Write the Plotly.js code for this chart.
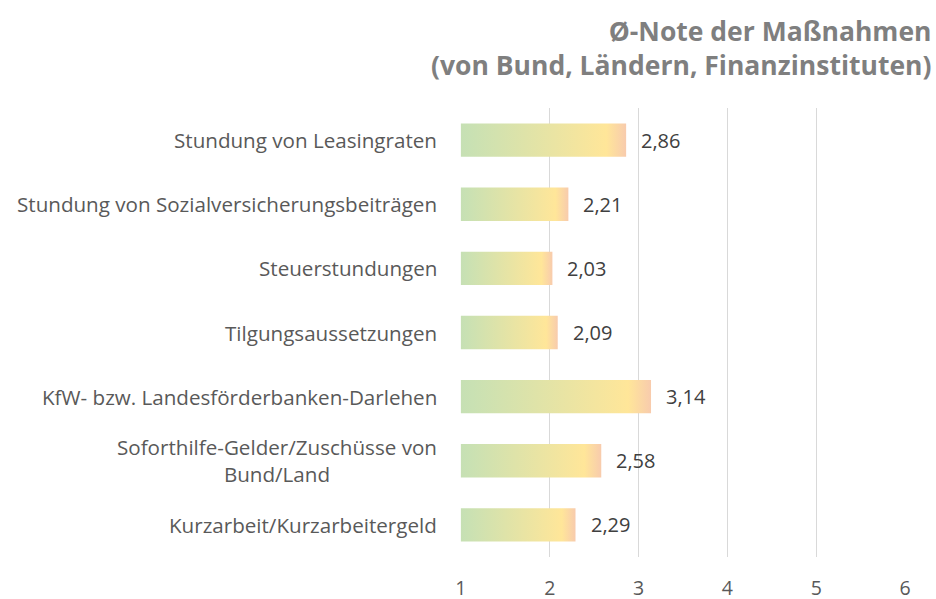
<!DOCTYPE html>
<html>
<head>
<meta charset="utf-8">
<script src="https://cdn.plot.ly/plotly-3.0.1.min.js"></script>
<style>html,body{margin:0;padding:0;background:#fff;}#chart{width:936px;height:599px;}</style>
</head>
<body>
<div id="chart"></div>
<script>
const categories = [
  "Stundung von Leasingraten",
  "Stundung von Sozialversicherungsbeiträgen",
  "Steuerstundungen",
  "Tilgungsaussetzungen",
  "KfW- bzw. Landesförderbanken-Darlehen",
  "Soforthilfe-Gelder/Zuschüsse von<br>Bund/Land",
  "Kurzarbeit/Kurzarbeitergeld"
];
const values = [2.86, 2.21, 2.03, 2.09, 3.14, 2.58, 2.29];
const tickValsX = [1, 2, 3, 4, 5, 6];
const baseValue = 1;
const titleText = "Ø-Note der Maßnahmen<br>(von Bund, Ländern, Finanzinstituten)";

const FONT = "'Open Sans', Lato, sans-serif";
const half = 0.26;
const gradient = [[0, '#C6E0B4'], [0.06, '#C9E1B3'], [0.88, '#FFE699'], [1, '#F8CBAD']];

const traces = values.map((v, i) => ({
  type: 'scatter',
  mode: 'lines',
  x: [baseValue, v, v, baseValue, baseValue],
  y: [i - half, i - half, i + half, i + half, i - half],
  fill: 'toself',
  fillgradient: {type: 'horizontal', colorscale: gradient},
  line: {width: 0, color: 'rgba(0,0,0,0)'},
  hoverinfo: 'skip',
  showlegend: false
}));

const annotations = [];
values.forEach((v, i) => {
  annotations.push({
    x: v, y: i, xref: 'x', yref: 'y',
    text: v.toFixed(2).replace('.', ','),
    showarrow: false, xanchor: 'left', yanchor: 'middle', xshift: 13,
    font: {family: FONT, size: 20, color: '#404040'}
  });
});
categories.forEach((c, i) => {
  annotations.push({
    x: 0, y: i, xref: 'paper', yref: 'y',
    text: c, showarrow: false, xanchor: 'right', yanchor: 'middle', xshift: -21,
    align: 'center',
    font: {family: FONT, size: 20.6, color: '#595959'}
  });
});
annotations.push({
  x: 1, y: 1, xref: 'paper', yref: 'paper',
  text: titleText, showarrow: false, xanchor: 'right', yanchor: 'top',
  xshift: 27, yshift: 97, align: 'right',
  font: {family: FONT, size: 26.5, color: '#7F7F7F', weight: 'bold'}
});

const layout = {
  width: 936, height: 599,
  margin: {l: 460, r: 30, t: 108, b: 42},
  paper_bgcolor: '#ffffff', plot_bgcolor: '#ffffff',
  xaxis: {
    range: [0.99, 6.01],
    tickvals: tickValsX,
    ticktext: tickValsX.map(String),
    showgrid: true, gridcolor: '#D9D9D9', gridwidth: 1.3,
    zeroline: false, showline: false, ticks: '',
    ticklabelstandoff: 17,
    tickfont: {family: FONT, size: 19.5, color: '#595959'},
    fixedrange: true
  },
  yaxis: {
    range: [6.5, -0.5],
    showgrid: false, zeroline: false, showline: false,
    showticklabels: false, ticks: '',
    fixedrange: true
  },
  annotations: annotations,
  showlegend: false
};

Plotly.newPlot('chart', traces, layout, {displayModeBar: false, staticPlot: true});
</script>
</body>
</html>
